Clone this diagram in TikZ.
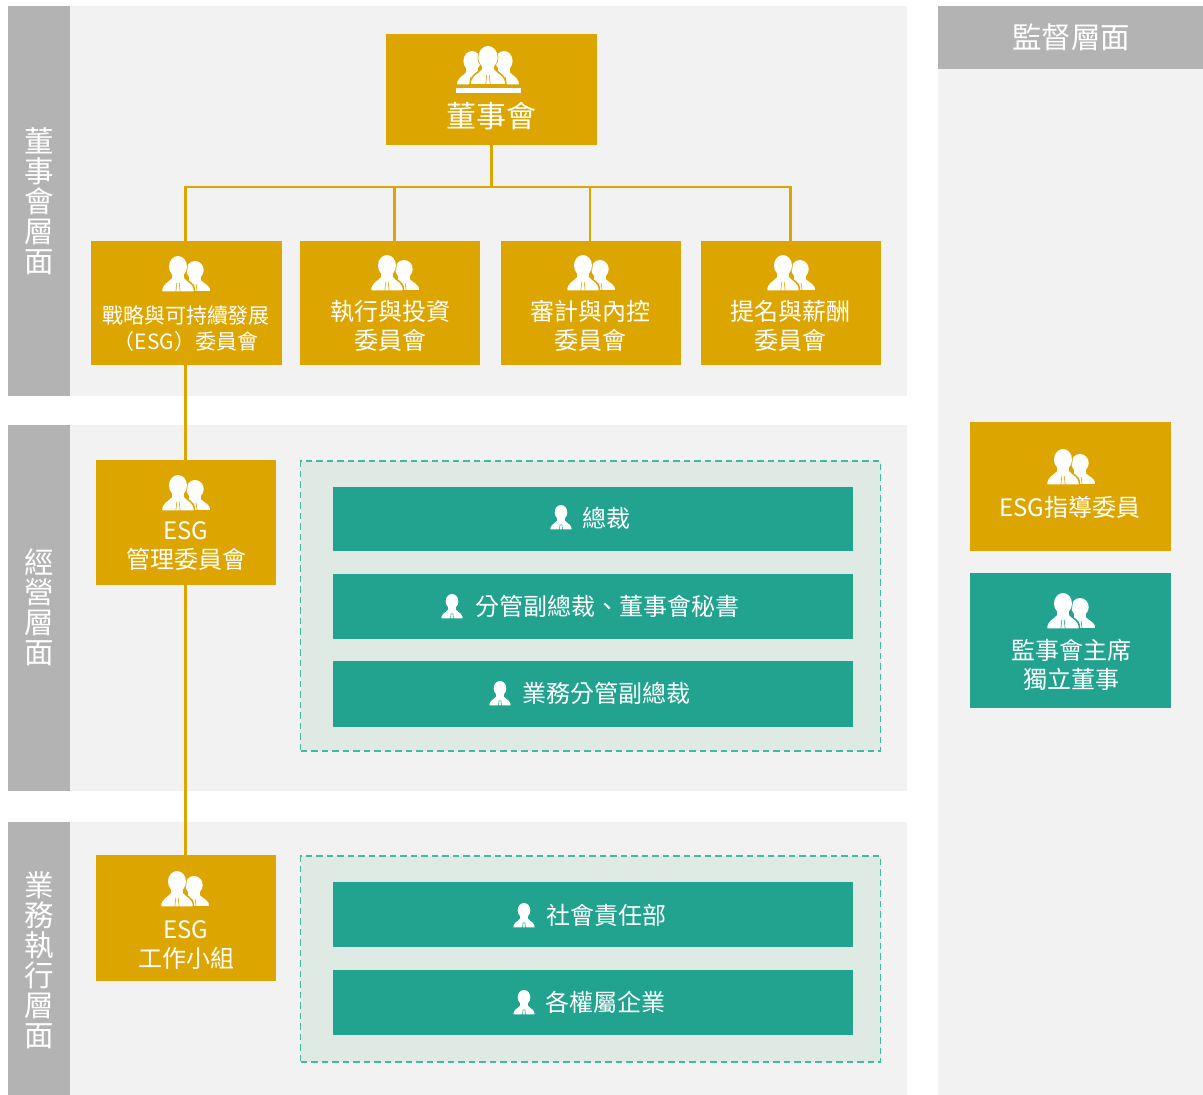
\documentclass[tikz,border=0pt]{standalone}
\usepackage{fontspec}
\setmainfont{Noto Sans CJK TC}
\usetikzlibrary{positioning}
\definecolor{goldc}{HTML}{DDA500}
\definecolor{tealc}{HTML}{22A390}
\definecolor{panelc}{HTML}{F2F2F2}
\definecolor{sidec}{HTML}{B3B3B3}
\definecolor{dashfill}{HTML}{E0EAE5}
\definecolor{dashline}{HTML}{45B8A4}
\newcommand{\manshape}[1]{%
  \path[draw=#1,line width=1.5,fill=white] (0,10.5) ellipse [x radius=9,y radius=10.5];
  \path[draw=#1,line width=1.5,fill=white] (-16.5,36) .. controls (-17,27) and (-10,26) .. (-6,21) -- (6,21) .. controls (10,26) and (17,27) .. (16.5,36) -- cycle;
  \fill[white] (0,10.5) ellipse [x radius=9,y radius=10.5];
  \fill[white] (-6,17) rectangle (6,24);
  \draw[#1,line width=.6] (-1.2,27) -- (-2.2,36) (1.2,27) -- (2.2,36);
}
\tikzset{
  x=1pt,y=-1pt,
  pics/solo/.style={code={\begin{scope}[scale=.7]\manshape{#1}\end{scope}}},
  pics/duo/.style={code={
    \begin{scope}[shift={(17,5)},xscale=.97,yscale=.86]\manshape{#1}\end{scope}
    \manshape{#1}}},
  pics/trio/.style={code={
    \begin{scope}[shift={(-16,5)},scale=.95]\manshape{#1}\end{scope}
    \begin{scope}[shift={(16,5)},scale=.95]\manshape{#1}\end{scope}
    \begin{scope}[scale=1.08]\manshape{#1}\end{scope}
    \fill[white] (-32,42) rectangle (33,47);}},
  block/.style={draw=none,inner sep=0pt,outer sep=0pt,anchor=north west},
  goldbox/.style={block,fill=goldc},
  tealbox/.style={block,fill=tealc},
  dashbox/.style={block,fill=dashfill,draw=dashline,line width=1.3,dash pattern=on 6.5pt off 4pt},
  sidebar/.style={block,fill=sidec},
  sidetext/.style={text=white,align=center,inner sep=0pt,font=\fontsize{29.5}{30}\selectfont},
  boxtext/.style={text=white,align=center,inner sep=0pt,font=\fontsize{24}{28.6}\selectfont},
  smalltext/.style={text=white,align=center,inner sep=0pt,font=\fontsize{21}{25.5}\selectfont},
  barlabel/.style={text=white,anchor=west,inner sep=0pt,font=\fontsize{24}{28}\selectfont},
  wire/.style={draw=goldc,line width=2.5}
}
\begin{document}
\begin{tikzpicture}
\useasboundingbox[fill=white] (0,0) rectangle (1203,1095);
% panels
\fill[panelc] (8,6) rectangle (907,396);
\fill[panelc] (8,425) rectangle (907,791);
\fill[panelc] (8,822) rectangle (907,1095);
\fill[panelc] (938,6) rectangle (1203,1095);
\node[sidebar,minimum width=62pt,minimum height=390pt] (s1) at (8,6) {};
\node[sidebar,minimum width=62pt,minimum height=366pt] (s2) at (8,425) {};
\node[sidebar,minimum width=62pt,minimum height=273pt] (s3) at (8,822) {};
\node[sidebar,minimum width=265pt,minimum height=63pt] (s4) at (938,6) {};
\node[sidetext] (t1) at (39,201) {董\\事\\會\\層\\面};
\node[sidetext] (t2) at (39,607) {經\\營\\層\\面};
\node[sidetext] (t3) at (39,960) {業\\務\\執\\行\\層\\面};
\node[sidetext] (t4) at (1071,37) {監督層面};
% dashed groups
\node[dashbox,minimum width=580pt,minimum height=290pt] (g1) at (300.5,461) {};
\node[dashbox,minimum width=580pt,minimum height=206pt] (g2) at (300.5,856) {};
% boxes
\node[goldbox,minimum width=211pt,minimum height=111pt] (board) at (386,34) {};
\node[goldbox,minimum width=191pt,minimum height=124pt] (c1) at (91,241) {};
\node[goldbox,minimum width=180pt,minimum height=124pt] (c2) at (300,241) {};
\node[goldbox,minimum width=180pt,minimum height=124pt] (c3) at (501,241) {};
\node[goldbox,minimum width=180pt,minimum height=124pt] (c4) at (701,241) {};
\node[goldbox,minimum width=180pt,minimum height=125pt] (mgr) at (96,460) {};
\node[goldbox,minimum width=180pt,minimum height=126pt] (wg) at (96,855) {};
\node[goldbox,minimum width=201pt,minimum height=129pt] (adv) at (970,422) {};
\node[tealbox,minimum width=201pt,minimum height=135pt] (sup) at (970,573) {};
\node[tealbox,minimum width=520pt,minimum height=64pt] (b1) at (333,487) {};
\node[tealbox,minimum width=520pt,minimum height=65pt] (b2) at (333,574) {};
\node[tealbox,minimum width=520pt,minimum height=66pt] (b3) at (333,661) {};
\node[tealbox,minimum width=520pt,minimum height=65pt] (b4) at (333,882) {};
\node[tealbox,minimum width=520pt,minimum height=65pt] (b5) at (333,970) {};
% connectors
\coordinate (bus) at (491.5,187);
\coordinate (busA) at (185.5,187);
\coordinate (busB) at (394.5,187);
\coordinate (busC) at (590,187);
\coordinate (busD) at (790.5,187);
\coordinate (topB) at (394.5,241);
\coordinate (topC) at (590,241);
\coordinate (topD) at (790.5,241);
\coordinate (topA) at (185.5,241);
\coordinate (c1b) at (185.5,365);
\coordinate (mgrT) at (185.5,460);
\coordinate (mgrB) at (185.5,585);
\coordinate (wgT) at (185.5,855);
\draw[wire] (board.south -| bus) -- (bus);
\draw[wire] (topA) -- (busA) -- (busD) -- (topD);
\draw[wire] (busB) -- (topB);
\draw[wire] (busC) -- (topC);
\draw[wire] (c1b) -- (mgrT);
\draw[wire] (mgrB) -- (wgT);
% icons
\pic at (488,46) {trio=goldc};
\pic at (178,256) {duo=goldc};
\pic at (387,255) {duo=goldc};
\pic at (583,255) {duo=goldc};
\pic at (783,255) {duo=goldc};
\pic at (178,475) {duo=goldc};
\pic at (177,871) {duo=goldc};
\pic at (1063,449) {duo=goldc};
\pic at (1063,593) {duo=tealc};
\pic at (561,505) {solo=tealc};
\pic at (452,594) {solo=tealc};
\pic at (500,681) {solo=tealc};
\pic at (524,903) {solo=tealc};
\pic at (524,990) {solo=tealc};
% texts
\node[text=white,inner sep=0pt,font=\fontsize{30}{30}\selectfont] (l0) at (491,116) {董事會};
\node[smalltext] (l1) at (186,328.5) {戰略與可持續發展\\（ESG）委員會};
\node[boxtext] (l2) at (390,326) {執行與投資\\委員會};
\node[boxtext] (l3) at (590,326) {審計與內控\\委員會};
\node[boxtext] (l4) at (790,326) {提名與薪酬\\委員會};
\node[boxtext] (l5) at (186,546) {ESG\\管理委員會};
\node[boxtext] (l6) at (186,945) {ESG\\工作小組};
\node[boxtext] (l7) at (1070,507) {ESG指導委員};
\node[boxtext] (l8) at (1071,665) {監事會主席\\獨立董事};
\node[barlabel] (x1) at (582,518) {總裁};
\node[barlabel] (x2) at (475,606) {分管副總裁、董事會秘書};
\node[barlabel] (x3) at (522,693) {業務分管副總裁};
\node[barlabel] (x4) at (546,915) {社會責任部};
\node[barlabel] (x5) at (545,1002) {各權屬企業};
\end{tikzpicture}
\end{document}
